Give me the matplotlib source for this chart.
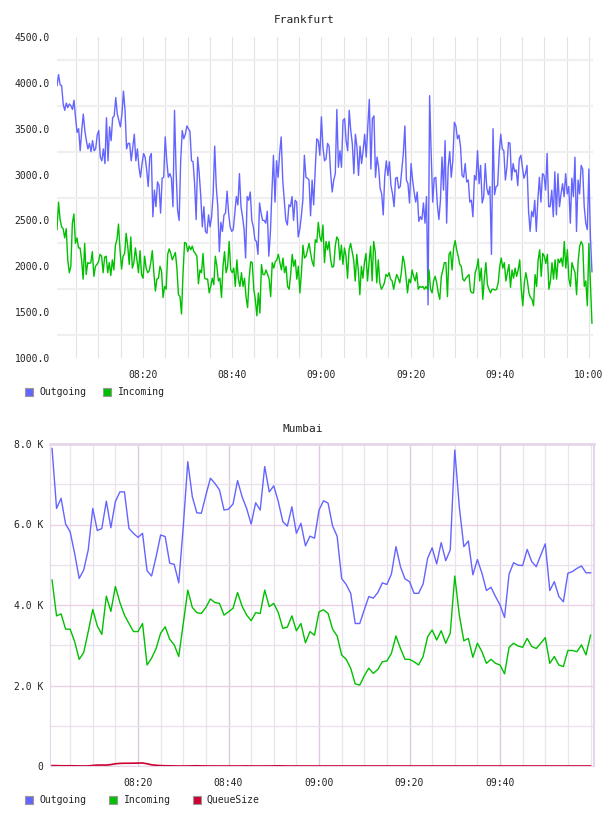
import numpy as np
import pandas as pd
import matplotlib
matplotlib.use('Agg')
import matplotlib.pyplot as plt
import matplotlib.dates as mdates
from matplotlib.patches import Rectangle

# series names / colours shared by both panels
names = ['Outgoing', 'Incoming', 'QueueSize']
colors = ['#6464ff', '#00c000', '#cc0033']

# Frankfurt (about every 20 s)
fra_out = [3970, 4090, 3980, 3970, 3770, 3700, 3780, 3730, 3770, 3750, 3710, 3810, 3620, 3460, 3500,
           3260, 3480, 3660, 3480, 3370, 3280, 3340, 3250, 3370, 3260, 3280, 3430, 3480, 3190, 3150,
           3280, 3120, 3620, 3150, 3520, 3370, 3620, 3640, 3840, 3660, 3590, 3520, 3660, 3910, 3700,
           3280, 3340, 3340, 3150, 3300, 3440, 3150, 3280, 3080, 2970, 3120, 3230, 3190, 3050, 2870,
           3190, 3230, 2540, 2830, 2650, 2920, 2880, 2580, 2960, 2970, 3410, 3150, 2970, 3010, 2960,
           2650, 3700, 3050, 2610, 2500, 3150, 3480, 3390, 3440, 3530,
           3500, 3470, 3150, 3140, 2900, 2510, 3190, 3010, 2760, 2430, 2650, 2380, 2360, 2560, 2430,
           2540, 2790, 3310, 2870, 2650, 2160, 2480, 2380, 2560, 2580, 2820, 2580, 2430, 2380, 2400,
           2580, 2760, 2670, 3010, 2650, 2540, 2400, 2090, 2760, 2720, 2810, 2500, 2430, 2290, 2270,
           2130, 2690, 2580, 2500, 2500, 2470, 2600, 2110, 2360, 2810, 3210, 2700, 3150, 2970, 3230,
           3410, 2940, 2720, 2500, 2450, 2670, 2650, 2760, 2500, 2720, 2700, 2320, 2400, 2540, 2720,
           3210, 2970, 2960, 2940, 2550, 2940, 2670, 3050, 3390, 3370, 3210, 3630,
           3300, 3150, 3170, 3340, 3310, 3010, 2810, 2940, 3010, 3710, 3080, 3260, 3080, 3590, 3610,
           3370, 3260, 3700, 3480, 3340, 3010, 3440, 3300, 2990, 3310, 3120, 3260, 3440, 3190, 3520,
           3820, 3060, 3610, 3640, 2970, 3190, 3080, 2850, 2790, 2560, 2990, 3150, 2990, 3140, 2880,
           2790, 2650, 2960, 2970, 2850, 2870, 3050, 3230, 3530, 2940, 2900, 2690, 3120, 2940, 2810,
           2700, 2810, 2490, 2540, 2510, 2690, 2470, 2760, 1580, 3860, 3230, 2700, 2960, 2970, 2670,
           2510, 2720, 3190, 2830, 3370, 2470, 3080, 3250, 2970, 3150, 3570, 3530, 3390, 3430,
           3300, 2990, 2970, 3120, 2920, 2940, 2700, 2720, 2540, 2990, 2940, 3260, 2900, 3100, 2690,
           2760, 3120, 2850, 2780, 2870, 2130, 3500, 2780, 2870, 2880, 3230, 3440, 3280, 3260, 2940,
           3080, 3350, 3340, 2940, 3120, 3030, 3050, 2880, 3170, 3210, 3080, 2960, 3010, 3100, 2600,
           2380, 2600, 2540, 2720, 2380, 2720, 2970, 2700, 3010, 2990, 2830, 3230, 2650, 2650, 2830,
           2540, 3030, 2560, 3010, 2650, 2790, 2900, 2760, 3010, 2790, 2870, 2470, 2960, 2760, 3190,
           2380, 2940, 2790, 3100, 3060, 2650, 2470, 2400, 3060, 2320, 1940]

fra_in = [2400, 2700, 2510, 2430, 2410, 2310, 2410, 2070, 1930, 2000, 2470, 2570, 2250, 2310, 2200,
          2200, 2070, 1860, 2250, 1910, 2040, 2030, 2040, 2160, 1890, 2000, 2020, 2050, 2130, 2110,
          1930, 2100, 2110, 1930, 2040, 1900, 2070, 1960, 2230, 2290, 2460, 2180, 1970, 2110, 2140,
          2360, 2220, 2020, 2320, 1980, 2040, 2200, 2070, 1930, 2170, 1910, 1870, 2110, 1980, 1930,
          1950, 2040, 2170, 1930, 1730, 1860, 1870, 2000, 1950, 1660, 1780, 1750, 2130, 2190, 2140,
          2070, 2110, 2150, 1980, 1690, 1670, 1480, 1930, 2260, 2250, 2160, 2220,
          2180, 2220, 2160, 2140, 2110, 1810, 1960, 1930, 2140, 1870, 1860, 1860, 1710, 1780, 1870,
          1800, 2110, 2000, 1840, 1870, 1660, 2000, 2160, 1930, 2000, 2270, 1960, 1930, 1980, 1780,
          2070, 1860, 1780, 1930, 1780, 1870, 1660, 1550, 1870, 2050, 2040, 1750, 1640, 1460, 1710,
          1490, 2020, 1910, 1910, 1960, 1910, 1860, 1670, 2040, 1980, 2050, 2070, 2130, 2040, 1960,
          2090, 1930, 2000, 1780, 1750, 1910, 2130, 2000, 2070, 1860, 2000, 1710, 1930, 2230, 2090,
          2110, 2180, 2250, 2140, 2050, 2000, 2290, 2260, 2480, 2320, 2270, 2450,
          2040, 2270, 2180, 2270, 2070, 1990, 2000, 2220, 2320, 2290, 2070, 2230, 2020, 2200, 2110,
          1870, 2180, 2250, 2160, 2070, 1840, 2130, 1960, 1690, 2000, 1870, 2040, 2140, 1840, 2040,
          2220, 1840, 2270, 2160, 1820, 2070, 1820, 1750, 1780, 1820, 1910, 1890, 1930, 1860, 1840,
          1750, 1840, 1910, 1870, 1820, 1930, 2110, 2040, 1890, 1710, 1860, 1820, 1960, 1890, 1840,
          1930, 1750, 1780, 1770, 1780, 1750, 1780, 1750, 1960, 1750, 1710, 1840, 1890, 1820, 1710,
          1640, 1890, 1960, 2040, 2040, 1670, 2130, 2160, 1960, 2200, 2280, 2180, 2110, 2020,
          2000, 1860, 1840, 1870, 1890, 1910, 1730, 1710, 1710, 1930, 1980, 2080, 1840, 1980, 1640,
          1870, 2040, 1800, 1750, 1710, 1750, 1750, 1740, 1750, 1820, 2000, 2090, 1980, 2040, 1840,
          1930, 2020, 1770, 1960, 1870, 1980, 1890, 1960, 2070, 1750, 1570, 1820, 1930, 1840, 1710,
          1660, 1640, 1570, 1910, 1780, 2070, 2180, 1890, 2140, 2110, 2030, 2130, 1750, 1840, 2040,
          1860, 2070, 1860, 2080, 2040, 2090, 2000, 2270, 1980, 2180, 1860, 1780, 2040, 1980, 1930,
          1690, 2050, 2220, 2270, 2230, 1780, 1840, 1570, 2250, 1820, 1380]

# Mumbai, one point per minute
mum_out = [7890, 6400, 6650, 6010, 5820, 5280, 4660, 4870, 5370, 6400, 5850, 5900, 6580, 5920, 6570,
           6810, 6810, 5900, 5780, 5680, 5780, 4850, 4720, 5200, 5740, 5700, 5040, 5010, 4550, 5950,
           7560, 6690, 6290, 6280, 6730, 7150, 7020, 6860, 6360, 6380, 6510, 7090, 6690, 6400, 6010,
           6540, 6360, 7440, 6810, 6960, 6570, 6070, 5960, 6440, 5780, 6030, 5470, 5710, 5660, 6360,
           6590, 6530, 5960, 5710, 4660, 4510, 4290, 3540, 3540, 3880, 4210, 4170, 4310, 4550, 4510,
           4770, 5450, 4950, 4650, 4580, 4290, 4290, 4520, 5160, 5420, 5020, 5550, 5100, 5370, 7850,
           6440, 5450, 5590, 4750, 5130, 4790, 4360, 4440, 4210, 4000, 3690, 4770, 5050, 4990, 4980,
           5380, 5080, 4950, 5240, 5520, 4360, 4580, 4210, 4080, 4790, 4830, 4910, 4970, 4800, 4800]

mum_in = [4620, 3730, 3780, 3400, 3400, 3090, 2650, 2820, 3340, 3890, 3480, 3270, 4220, 3840, 4460,
          4060, 3750, 3540, 3340, 3340, 3540, 2510, 2680, 2920, 3300, 3460, 3150, 3010, 2720, 3540,
          4370, 3940, 3810, 3790, 3940, 4150, 4060, 4040, 3750, 3830, 3920, 4310, 3970, 3750, 3610,
          3810, 3790, 4370, 3960, 4040, 3810, 3420, 3450, 3730, 3360, 3540, 3060, 3340, 3250, 3830,
          3880, 3790, 3400, 3230, 2760, 2650, 2430, 2040, 2010, 2240, 2430, 2300, 2400, 2590, 2610,
          2800, 3230, 2920, 2650, 2650, 2590, 2510, 2720, 3210, 3380, 3130, 3360, 3050, 3300, 4720,
          3750, 3110, 3170, 2700, 3050, 2840, 2550, 2650, 2550, 2510, 2290, 2950, 3050, 2980, 2950,
          3170, 2970, 2920, 3050, 3190, 2550, 2720, 2510, 2470, 2870, 2870, 2840, 3010, 2760, 3250]

mum_queue = [10, 8, 6, 5, 6, 4, 2, 0, 2, 15, 22, 25, 22, 35, 55, 65, 68, 68, 70, 72,
             75, 55, 30, 18, 10, 6, 4, 2, 0, 0, 0, 4, 6, 3, 1, 0, 0, 0, 0, 0,
             0, 0, 0, 2, 0, 0, 0, 0, 0, 2, 4, 2, 0, 0, 0, 0, 0, 0, 0, 0,
             0, 0, 0, 0, 0, 0, 0, 0, 0, 0, 0, 0, 0, 0, 0, 0, 0, 0, 0, 0,
             0, 0, 0, 0, 0, 0, 0, 0, 0, 0, 0, 0, 0, 0, 0, 0, 0, 0, 0, 0,
             0, 0, 0, 0, 0, 0, 0, 0, 0, 0, 0, 0, 0, 0, 0, 0, 0, 0, 0, 0]

day = '2024-01-01 '
t_out = pd.date_range(day + '08:00:43', day + '10:00:40', periods=len(fra_out))
t_in = pd.date_range(day + '08:00:43', day + '10:00:40', periods=len(fra_in))
t_mum = pd.date_range(day + '08:01', periods=len(mum_out), freq='1min')

W, H = 608, 816
fig = plt.figure(figsize=(W / 100, H / 100), dpi=100)
mono = 'DejaVu Sans Mono'
txt = '#222222'

def fx(px):
    return px / W

def fy(py):
    return 1 - py / H

# ---------- Frankfurt ----------
ax1 = fig.add_axes([fx(57), fy(358), fx(593 - 57), (358 - 37) / H])
ax1.plot(t_out, fra_out, color=colors[0], lw=1.0)
ax1.plot(t_in, fra_in, color=colors[1], lw=1.0)
ax1.set_ylim(1000, 4500)
ax1.set_xlim(pd.Timestamp(day + '08:00:43'), pd.Timestamp(day + '10:00:54'))
ax1.set_yticks(np.arange(1000, 4501, 500))
ax1.set_yticklabels(['%.1f' % v for v in np.arange(1000, 4501, 500)])
ax1.set_yticks(np.arange(1250, 4300, 500), minor=True)
ax1.xaxis.set_major_locator(mdates.MinuteLocator(byminute=[0, 20, 40]))
ax1.xaxis.set_major_formatter(mdates.DateFormatter('%H:%M'))
ax1.xaxis.set_minor_locator(mdates.MinuteLocator(byminute=range(0, 60, 5)))
ax1.grid(False)
ax1.grid(True, which='minor', axis='y', color='#efefef', lw=1.6)
ax1.grid(True, which='both', axis='x', color='#e2e2e2', lw=0.8)
for s in ax1.spines.values():
    s.set_visible(False)
ax1.tick_params(which='both', length=0)
ax1.tick_params(axis='y', pad=5, labelsize=7, labelcolor=txt)
ax1.tick_params(axis='x', pad=9, labelsize=7, labelcolor=txt)
for lab in ax1.get_xticklabels() + ax1.get_yticklabels():
    lab.set_family(mono)
ax1.set_axisbelow(True)
fig.text(fx(304), fy(20), 'Frankfurt', ha='center', va='center', family=mono, fontsize=8, color=txt)

# ---------- Mumbai ----------
ax2 = fig.add_axes([fx(50), fy(766), fx(594 - 50), (766 - 444) / H])
ax2.plot(t_mum, mum_out, color=colors[0], lw=1.0)
ax2.plot(t_mum, mum_in, color=colors[1], lw=1.0)
ax2.plot(t_mum, mum_queue, color=colors[2], lw=1.2, zorder=5)
ax2.set_ylim(0, 8000)
ax2.set_xlim(pd.Timestamp(day + '08:00:33'), pd.Timestamp(day + '10:00:46'))
ax2.set_yticks([0, 2000, 4000, 6000, 8000])
ax2.set_yticklabels(['0', '2.0 K', '4.0 K', '6.0 K', '8.0 K'])
ax2.set_yticks([1000, 3000, 5000, 7000], minor=True)
major_t = pd.date_range(day + '08:20', day + '09:40', freq='20min')
ax2.xaxis.set_major_locator(mticker := plt.FixedLocator(mdates.date2num(major_t)))
ax2.xaxis.set_major_formatter(mdates.DateFormatter('%H:%M'))
ax2.xaxis.set_minor_locator(mdates.MinuteLocator(byminute=range(0, 60, 5)))
ax2.grid(True, which='major', axis='y', color='#e8d2e8', lw=1.0)
ax2.grid(True, which='minor', axis='y', color='#ebe3ec', lw=1.0)
ax2.grid(True, which='minor', axis='x', color='#ebe3ed', lw=0.9)
ax2.grid(True, which='major', axis='x', color='#dccbe0', lw=1.0)
for k, s in ax2.spines.items():
    s.set_color('#e6d6ea')
    s.set_linewidth(0.8)
ax2.spines['top'].set_linewidth(2.0)
ax2.spines['right'].set_linewidth(1.5)
ax2.tick_params(which='both', length=0)
ax2.tick_params(axis='y', pad=5, labelsize=7, labelcolor=txt)
ax2.tick_params(axis='x', pad=9, labelsize=7, labelcolor=txt)
for lab in ax2.get_xticklabels() + ax2.get_yticklabels():
    lab.set_family(mono)
ax2.set_axisbelow(True)
fig.text(fx(303), fy(429), 'Mumbai', ha='center', va='center', family=mono, fontsize=8, color=txt)

# ---------- legends ----------
def legend_item(xbox, xtext, ycen, name, col):
    fig.add_artist(Rectangle((fx(xbox), fy(ycen + 4)), fx(8), 8 / H, transform=fig.transFigure,
                             facecolor=col, edgecolor='#999999', lw=0.8))
    fig.text(fx(xtext), fy(ycen), name, ha='left', va='center', family=mono, fontsize=7, color=txt)

legend_item(25, 39, 392, names[0], colors[0])
legend_item(103, 118, 392, names[1], colors[1])
legend_item(25, 39, 800, names[0], colors[0])
legend_item(109, 124, 800, names[1], colors[1])
legend_item(193, 206, 800, names[2], colors[2])

fig.savefig('out.png', dpi=100)
